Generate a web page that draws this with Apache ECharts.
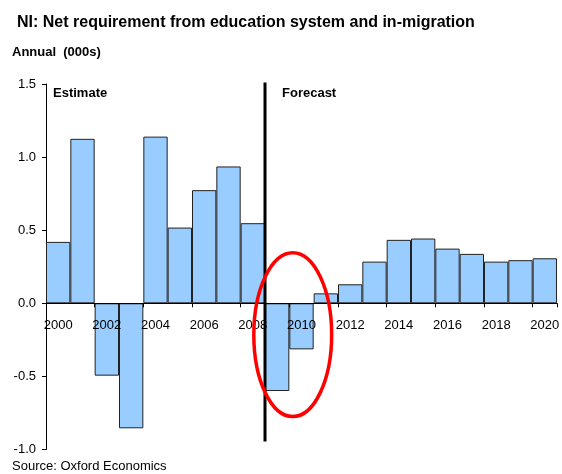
<!DOCTYPE html>
<html>
<head>
<meta charset="utf-8">
<script src="https://cdn.jsdelivr.net/npm/echarts@6/dist/echarts.min.js"></script>
<style>
  html, body { margin: 0; padding: 0; background: #fff; }
  #chart { width: 562px; height: 474px; }
</style>
</head>
<body>
<div id="chart"></div>
<script>
const years = ['2000', '2001', '2002', '2003', '2004', '2005', '2006', '2007', '2008', '2009', '2010',
    '2011', '2012', '2013', '2014', '2015', '2016', '2017', '2018', '2019', '2020'];
const requirement = [0.42, 1.125, -0.495, -0.855, 1.14, 0.518, 0.774, 0.936, 0.548, -0.60, -0.315,
    0.068, 0.13, 0.285, 0.434, 0.443, 0.374, 0.338, 0.285, 0.295, 0.308];
const yTicks = { min: -1.0, max: 1.5, step: 0.5 };
const forecastStart = 8.5;   // boundary between 2008 and 2009 (category index)

const font = 'Liberation Sans, Arial, sans-serif';
const gridBottom = 24.5;
const chart = echarts.init(document.getElementById('chart'), null, { renderer: 'canvas' });

chart.setOption({
    backgroundColor: '#fff',
    animation: false,
    title: {
        text: 'NI: Net requirement from education system and in-migration',
        left: 12,
        top: 10,
        textStyle: { fontFamily: font, fontSize: 16, fontWeight: 'bold', color: '#000' }
    },
    grid: { left: 46, right: 5, top: 84, bottom: gridBottom, containLabel: false, outerBoundsMode: 'none' },
    xAxis: {
        type: 'category',
        data: years,
        boundaryGap: true,
        position: 'bottom',
        z: 5,   // labels sit over the negative bars
        axisLine: { onZero: false, lineStyle: { color: '#000', width: 1 } },
        axisTick: { show: true, length: 4, alignWithLabel: false, lineStyle: { color: '#000' } },
        axisLabel: { interval: 1, margin: 16, fontFamily: font, fontSize: 13, color: '#000' },
        splitLine: { show: false }
    },
    yAxis: {
        type: 'value',
        min: yTicks.min,
        max: yTicks.max,
        interval: yTicks.step,
        axisLine: { show: true, lineStyle: { color: '#000', width: 1 } },
        axisTick: { show: true, length: 4, lineStyle: { color: '#000' } },
        axisLabel: { margin: 10, fontFamily: font, fontSize: 13, color: '#000',
            formatter: v => v.toFixed(1) },
        splitLine: { show: false }
    },
    series: [{
        name: 'Net requirement',
        type: 'bar',
        data: requirement,
        barCategoryGap: 0,
        itemStyle: { color: '#99ccff', borderColor: '#222', borderWidth: 1 }
    }]
});

// annotations positioned through the chart's own axes
function yPx(v) {
    return chart.convertToPixel({ yAxisIndex: 0 }, v);
}
function xPx(i) {
    // category axis rounds to whole indices, so interpolate between them
    const x0 = chart.convertToPixel({ xAxisIndex: 0 }, years[0]);
    const x1 = chart.convertToPixel({ xAxisIndex: 0 }, years[1]);
    return x0 + i * (x1 - x0);
}
function placeAnnotations() {
    const zeroY = yPx(0);
    const bottomY = chart.getHeight() - gridBottom;
    const topY = yPx(1.51);
    const lineX = xPx(forecastStart);
    const cx = xPx(9.64), cy = yPx(-0.215);
    const rx = xPx(9.64 + 1.6) - cx, ry = yPx(-0.215 - 0.56) - cy;
    chart.setOption({
        xAxis: { offset: zeroY - bottomY },
        graphic: [
            { type: 'text', left: 12, top: 46,
              style: { text: 'Annual  (000s)', font: 'bold 13px ' + font, fill: '#000' } },
            { type: 'text', left: 12, top: 460,
              style: { text: 'Source: Oxford Economics', font: '13px ' + font, fill: '#000' } },
            { type: 'text', x: xPx(-0.5) + 7, y: topY + 4,
              style: { text: 'Estimate', font: 'bold 13px ' + font, fill: '#000' } },
            { type: 'text', x: lineX + 17, y: topY + 4,
              style: { text: 'Forecast', font: 'bold 13px ' + font, fill: '#000' } },
            { type: 'line', z: 10,
              shape: { x1: lineX, y1: topY, x2: lineX, y2: yPx(-0.945) },
              style: { stroke: '#000', lineWidth: 3 } },
            { type: 'ellipse', z: 11,
              shape: { cx: cx, cy: cy, rx: Math.abs(rx), ry: Math.abs(ry) },
              style: { fill: null, stroke: '#ff0000', lineWidth: 3.5 } }
        ]
    });
}
placeAnnotations();
</script>
</body>
</html>
